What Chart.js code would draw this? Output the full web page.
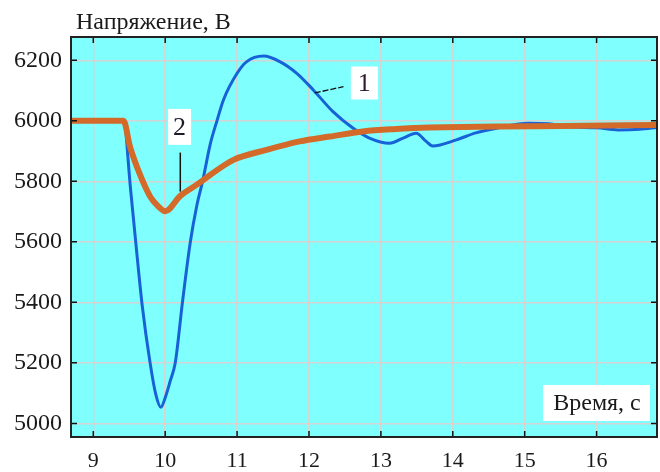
<!DOCTYPE html>
<html>
<head>
<meta charset="utf-8">
<script src="https://cdn.jsdelivr.net/npm/chart.js@4.4.0/dist/chart.umd.min.js"></script>
<style>
@font-face{font-family:"RefSerif";src:local("Liberation Serif"),local("LiberationSerif"),local("LiberationSerif-Regular"),local("Times New Roman"),local("DejaVu Serif"),local("DejaVuSerif");}
html,body{margin:0;padding:0;background:#fff;}
canvas{display:block;}
</style>
</head>
<body>
<canvas id="c" width="660" height="472"></canvas>
<script>
// Series 1 (blue): time, s and voltage, V
const time1 = [8.69, 9.42, 9.52, 9.59, 9.68, 9.79, 9.87, 9.94, 10.0, 10.07, 10.14, 10.24, 10.35, 10.44, 10.52, 10.63, 10.72, 10.81, 11.0, 11.13, 11.37, 11.6, 11.83, 12.06, 12.33, 12.61, 12.84, 13.12, 13.31, 13.49, 13.63, 13.72, 14.05, 14.32, 14.64, 15.05, 15.33, 15.6, 16.0, 16.3, 16.6, 16.85];
const volt1 = [6000, 6000, 5770, 5600, 5390, 5200, 5095, 5053, 5085, 5140, 5200, 5400, 5600, 5720, 5800, 5926, 6000, 6069, 6157, 6195, 6214, 6195, 6157, 6102, 6031, 5976, 5943, 5926, 5943, 5959, 5932, 5917, 5937, 5960, 5977, 5992, 5990, 5980, 5977, 5970, 5972, 5978];
// Series 2 (orange)
const time2 = [8.69, 9.42, 9.51, 9.66, 9.79, 9.9, 10.0, 10.21, 10.44, 10.63, 10.95, 11.41, 11.87, 12.29, 12.75, 13.21, 13.68, 14.6, 15.52, 16.85];
const volt2 = [6000, 6000, 5915, 5816, 5750, 5718, 5701, 5752, 5789, 5822, 5871, 5904, 5932, 5948, 5965, 5973, 5978, 5981, 5983, 5986];
// Axis tick values
const xTicks = [9, 10, 11, 12, 13, 14, 15, 16];
const yTicks = [5000, 5200, 5400, 5600, 5800, 6000, 6200];
const yTitle = 'Напряжение, В';
const xTitle = 'Время, с';
const curveLabels = ['1', '2'];

const SERIF = '"Liberation Serif", RefSerif, "Times New Roman", Times, "DejaVu Serif", serif';
const pts = (t, v) => t.map((x, i) => ({x: x, y: v[i]}));

const decorPlugin = {
  id: 'decor',
  beforeDraw(chart) {
    const {ctx, chartArea: a} = chart;
    ctx.save();
    ctx.fillStyle = '#80ffff';
    ctx.fillRect(a.left, a.top, a.right - a.left, a.bottom - a.top);
    ctx.restore();
  },
  afterDatasetsDraw(chart) {
    const {ctx, chartArea: a, scales} = chart;
    const xs = scales.x, ys = scales.y;
    ctx.save();
    // inward ticks
    ctx.strokeStyle = '#111';
    ctx.lineWidth = 1.5;
    ctx.beginPath();
    xTicks.forEach(t => {
      const px = xs.getPixelForValue(t);
      ctx.moveTo(px, a.bottom); ctx.lineTo(px, a.bottom - 6);
      ctx.moveTo(px, a.top); ctx.lineTo(px, a.top + 6);
    });
    yTicks.forEach(v => {
      const py = ys.getPixelForValue(v);
      ctx.moveTo(a.left, py); ctx.lineTo(a.left + 6, py);
      ctx.moveTo(a.right, py); ctx.lineTo(a.right - 6, py);
    });
    ctx.stroke();
    // frame
    ctx.strokeStyle = '#222';
    ctx.lineWidth = 2;
    ctx.strokeRect(a.left, a.top, a.right - a.left, a.bottom - a.top);

    // leader line for curve 1
    ctx.strokeStyle = '#111';
    ctx.lineWidth = 1.3;
    ctx.setLineDash([6, 2]);
    ctx.beginPath();
    ctx.moveTo(xs.getPixelForValue(12.08), ys.getPixelForValue(6092));
    ctx.lineTo(xs.getPixelForValue(12.48), ys.getPixelForValue(6113));
    ctx.stroke();
    ctx.setLineDash([]);
    // leader line for curve 2
    ctx.lineWidth = 1.5;
    ctx.beginPath();
    ctx.moveTo(xs.getPixelForValue(10.21), ys.getPixelForValue(5895));
    ctx.lineTo(xs.getPixelForValue(10.21), ys.getPixelForValue(5766));
    ctx.stroke();

    // label boxes
    ctx.font = '26px ' + SERIF;
    ctx.textAlign = 'center';
    ctx.textBaseline = 'middle';
    const box = (cx, cy, w, h, txt, col) => {
      ctx.fillStyle = '#fff';
      ctx.fillRect(cx - w / 2, cy - h / 2, w, h);
      ctx.fillStyle = col;
      ctx.fillText(txt, cx, cy + 1);
    };
    box(xs.getPixelForValue(12.77), ys.getPixelForValue(6125), 27, 33, curveLabels[0], '#301830');
    box(xs.getPixelForValue(10.2), ys.getPixelForValue(5980), 23, 36, curveLabels[1], '#1a1a2a');

    // x axis title box
    ctx.fillStyle = '#fff';
    ctx.fillRect(543, 385, 107, 36);
    ctx.fillStyle = '#1a1a1a';
    ctx.font = '24px ' + SERIF;
    ctx.fillText(xTitle, 597, 404);

    // y axis title
    ctx.textAlign = 'left';
    ctx.textBaseline = 'alphabetic';
    ctx.font = '24px ' + SERIF;
    ctx.fillText(yTitle, 76, 29);
    ctx.restore();
  }
};

const chart = new Chart(document.getElementById('c'), {
  type: 'line',
  data: {
    datasets: [
      {
        label: curveLabels[0],
        data: pts(time1, volt1),
        borderColor: '#1762d6',
        borderWidth: 3,
        pointRadius: 0,
        order: 2,
        cubicInterpolationMode: 'monotone'
      },
      {
        label: curveLabels[1],
        data: pts(time2, volt2),
        borderColor: '#d46a2a',
        borderWidth: 6,
        pointRadius: 0,
        order: 1,
        cubicInterpolationMode: 'monotone'
      }
    ]
  },
  options: {
    responsive: false,
    animation: false,
    devicePixelRatio: 1,
    layout: {padding: {top: 37, right: 1, left: 0, bottom: 0}},
    plugins: {legend: {display: false}, tooltip: {enabled: false}, title: {display: false}},
    scales: {
      x: {
        type: 'linear',
        min: 8.69,
        max: 16.84,
        afterFit(s) { s.height = 35; },
        afterBuildTicks(s) { s.ticks = xTicks.map(v => ({value: v})); },
        grid: {color: '#d4d4d4', lineWidth: 1.5, drawTicks: false},
        border: {display: false},
        ticks: {
          font: {family: SERIF, size: 22},
          color: '#1a1a1a',
          padding: 11,
          maxRotation: 0,
          callback: v => String(v)
        }
      },
      y: {
        type: 'linear',
        min: 4955,
        max: 6277,
        afterFit(s) { s.width = 71; },
        afterBuildTicks(s) { s.ticks = yTicks.map(v => ({value: v})); },
        grid: {color: '#d4d4d4', lineWidth: 1.5, drawTicks: false},
        border: {display: false},
        ticks: {
          font: {family: SERIF, size: 24},
          color: '#1a1a1a',
          padding: 9,
          callback: v => String(v)
        }
      }
    }
  },
  plugins: [decorPlugin]
});
if (document.fonts && document.fonts.load) {
  Promise.all([
    document.fonts.load('23px RefSerif', 'Напряжение 0123'),
    document.fonts.load('23px "Liberation Serif"', 'Напряжение 0123')
  ]).then(() => chart.update('none')).catch(() => {});
}
</script>
</body>
</html>
